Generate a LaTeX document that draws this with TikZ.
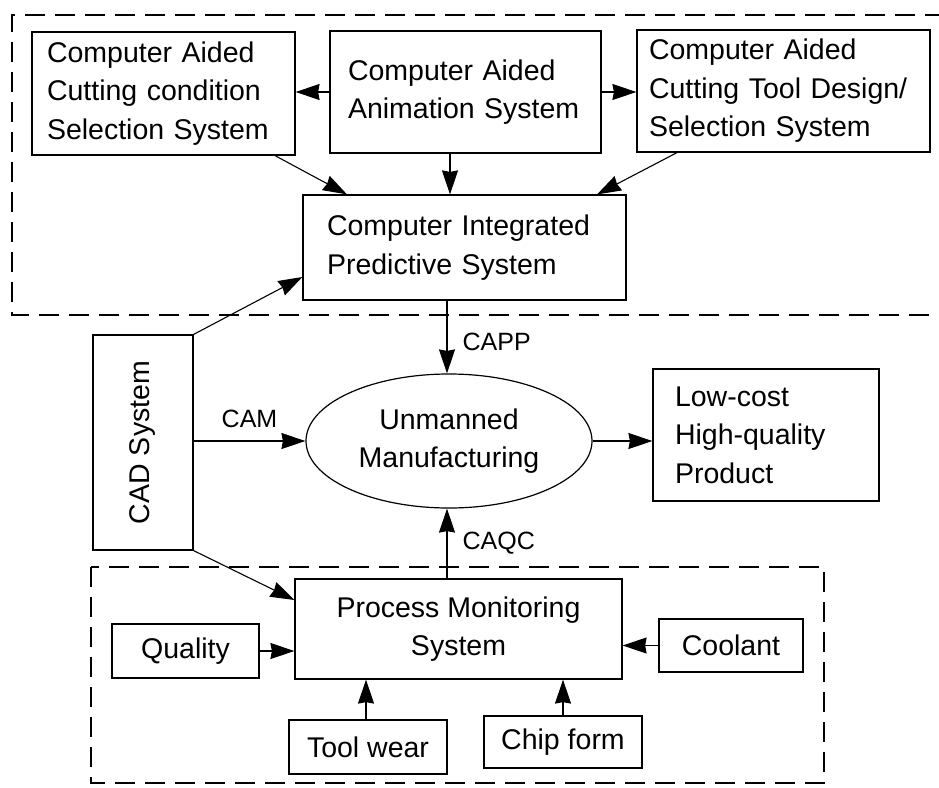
\documentclass[tikz,border=0pt]{standalone}
\usepackage{fontspec}
\setmainfont{Liberation Sans}
\usetikzlibrary{arrows.meta,shapes.geometric,calc}
\begin{document}
\begin{tikzpicture}[x=1pt,y=-1pt,
  line width=1.2pt,
  boxfont/.style={font=\fontsize{28.5}{38.5}\selectfont},
  lbox/.style={draw,rectangle,boxfont,align=left,inner ysep=0pt},
  cbox/.style={draw,rectangle,boxfont,align=center,inner sep=0pt},
  arr/.style={line width=1.1pt,-{Stealth[length=24pt,width=16pt,inset=1.5pt]}},
  dashbox/.style={dash pattern=on 20pt off 10pt,line width=1.1pt},
  lab/.style={font=\fontsize{25}{30}\selectfont,inner sep=0pt}]
\useasboundingbox (0,0) rectangle (939,787);
% dashed groups
\draw[dashbox] (945,15) -- (12,15) -- (12,315) -- (945,315);
\draw[dashbox] (91,567) rectangle (824,783);
% nodes
\node[lbox,minimum width=263,minimum height=123,inner xsep=15pt,text width=233pt] (b1) at (163.5,93.5)
  {Computer Aided\\Cutting condition\\Selection System};
\node[lbox,minimum width=271,minimum height=122,inner xsep=18pt,text width=235pt] (b2) at (465.5,92)
  {Computer Aided\\Animation System};
\node[lbox,minimum width=293,minimum height=122,inner xsep=12pt,text width=269pt] (b3) at (783.5,91)
  {Computer Aided\\Cutting Tool Design/\\Selection System};
\node[lbox,minimum width=323,minimum height=105,inner xsep=24pt,text width=275pt] (b4) at (464.5,247.5)
  {Computer Integrated\\Predictive System};
\node[cbox,minimum width=100,minimum height=215] (cad) at (143,442.5) {};
\node[boxfont,rotate=90,inner sep=0pt] (cadt) at (cad.center) {CAD System};
\node[draw,ellipse,boxfont,align=center,minimum width=286,minimum height=134,inner sep=0pt] (ell) at (449,441)
  {Unmanned\\Manufacturing};
\node[lbox,minimum width=226,minimum height=132,inner xsep=22pt,text width=182pt] (low) at (766,435)
  {Low-cost\\High-quality\\Product};
\node[cbox,minimum width=327,minimum height=100] (pms) at (458.5,629)
  {Process Monitoring\\System};
\node[cbox,minimum width=147,minimum height=54] (qual) at (185.5,651) {Quality};
\node[cbox,minimum width=158,minimum height=54] (tool) at (368,747) {Tool wear};
\node[cbox,minimum width=158,minimum height=52] (chip) at (563,742) {Chip form};
\node[cbox,minimum width=144,minimum height=53] (cool) at (731,645.5) {Coolant};
% connectors
\draw[arr] (b2.west) -- (b2.west -| b1.east);
\draw[arr] (b2.east) -- (b2.east -| b3.west);
\draw[arr] ([xshift=-15.5pt]b2.south) -- ([xshift=-15.5pt]b2.south |- b4.north);
\draw[arr] ([xshift=111.5pt]b1.south) -- ([xshift=-117.5pt]b4.north);
\draw[arr] ([xshift=-106.5pt]b3.south) -- ([xshift=132.5pt]b4.north);
\draw[arr] (cad.north east) -- ([yshift=-29.5pt]b4.west);
\draw[arr] (cad.east |- ell.west) -- node[lab,midway,above=13pt] (camlab) {CAM} (ell.west);
\coordinate (cappA) at ([xshift=-17.5pt]b4.south);
\draw[arr] (cappA) -- (cappA |- ell.north);
\node[lab,anchor=west] (capp) at (462,342) {CAPP};
\draw[arr] (ell.east) -- (ell.east -| low.west);
\coordinate (caqcA) at ([xshift=-11.5pt]pms.north);
\draw[arr] (caqcA) -- (caqcA |- ell.south);
\node[lab,anchor=west] (caqc) at (462,543) {CAQC};
\draw[arr] (cad.south east) -- ([yshift=29pt]pms.west);
\draw[arr] (qual.east) -- (qual.east -| pms.west);
\draw[arr] ([xshift=-2pt]tool.north) -- ([xshift=-2pt]tool.north |- pms.south);
\draw[arr] (chip.north) -- (chip.north |- pms.south);
\draw[arr] (cool.west) -- (cool.west -| pms.east);
\end{tikzpicture}
\end{document}
